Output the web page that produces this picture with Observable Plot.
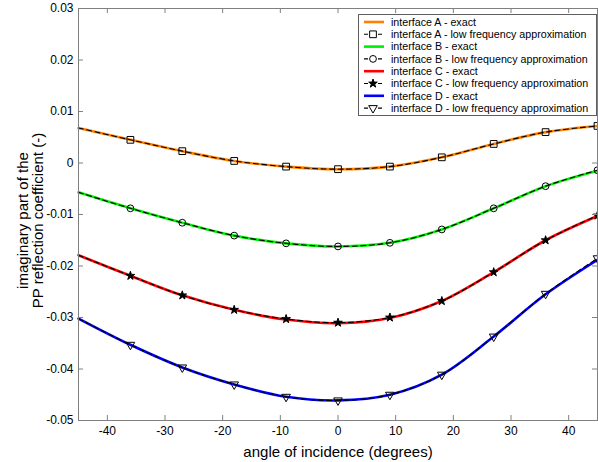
<!DOCTYPE html>
<html>
<head>
<meta charset="utf-8">
<script src="https://cdn.jsdelivr.net/npm/d3@7"></script>
<script src="https://cdn.jsdelivr.net/npm/@observablehq/plot@0.6"></script>
<style>
  html, body { margin: 0; padding: 0; background: #fff; }
  #wrap { position: relative; width: 598px; height: 462px; font-family: Arial, "Liberation Sans", sans-serif; }
  #legend { position: absolute; left: 358px; top: 14px; }
</style>
</head>
<body>
<div id="wrap"><div id="chart"></div><div id="legend"></div></div>
<script>
// angles (degrees) at which values were read
const angles = [-45, -36, -27, -18, -9, 0, 9, 18, 27, 36, 45];
// marker angles of the low-frequency approximation
const markerAngles = [-36, -27, -18, -9, 0, 9, 18, 27, 36, 45];

// exact curves
const exactA = [0.0068, 0.0045, 0.0023, 0.0004, -0.0007, -0.0012, -0.0007, 0.0011, 0.0037, 0.0060, 0.0072];
const exactB = [-0.0057, -0.0088, -0.0116, -0.0141, -0.0156, -0.0162, -0.0155, -0.0129, -0.0088, -0.0045, -0.0015];
const exactC = [-0.0179, -0.0219, -0.0257, -0.0285, -0.0304, -0.0311, -0.0301, -0.0268, -0.0212, -0.0150, -0.0103];
const exactD = [-0.0302, -0.0353, -0.0397, -0.0430, -0.0454, -0.0461, -0.0450, -0.0411, -0.0337, -0.0255, -0.0188];

// low-frequency approximations
const approxA = [0.0068, 0.0045, 0.0023, 0.0004, -0.0007, -0.0012, -0.0007, 0.0011, 0.0037, 0.0060, 0.0072];
const approxB = [-0.0057, -0.0088, -0.0116, -0.0141, -0.0156, -0.0162, -0.0155, -0.0129, -0.0088, -0.0045, -0.0014];
const approxC = [-0.0179, -0.0219, -0.0257, -0.0285, -0.0303, -0.0310, -0.0300, -0.0268, -0.0212, -0.0150, -0.0102];
const approxD = [-0.0302, -0.0353, -0.0397, -0.0430, -0.0454, -0.0461, -0.0450, -0.0411, -0.0337, -0.0254, -0.0185];

const seriesNames = ["A", "B", "C", "D"];
const colors = ["#ff8000", "#00ee00", "#ff0000", "#0000ff"];
const symbols = ["square", "circle", "star", "triangle"];
const symbolR = [3.8, 3.4, 2.7, 3.2];

const xTicks = [-40, -30, -20, -10, 0, 10, 20, 30, 40];
const yTicks = [-0.05, -0.04, -0.03, -0.02, -0.01, 0, 0.01, 0.02, 0.03];

const exactSets = [exactA, exactB, exactC, exactD];
const approxSets = [approxA, approxB, approxC, approxD];

const exactRows = [];
const approxRows = [];
seriesNames.forEach((s, i) => {
  angles.forEach((a, j) => {
    exactRows.push({series: s, x: a, y: exactSets[i][j]});
    approxRows.push({series: s, x: a, y: approxSets[i][j]});
  });
});

const W = 598, H = 462, mL = 78, mT = 8, mR = 1, mB = 42;
const plotW = W - mL - mR, plotH = H - mT - mB;
const gray = "#808080";

const dotMarks = seriesNames.map((s, i) => Plot.dot(
  approxRows.filter(d => d.series === s && markerAngles.includes(d.x)),
  {
    x: "x", y: "y",
    symbol: () => symbols[i],
    r: symbolR[i],
    rotate: i === 3 ? 180 : 0,
    stroke: "black",
    strokeWidth: 1,
    fill: i === 2 ? "black" : "none"
  }
));

const chart = Plot.plot({
  width: W, height: H,
  marginLeft: mL, marginTop: mT, marginRight: mR, marginBottom: mB,
  style: {fontFamily: 'Arial, "Liberation Sans", sans-serif', fontSize: "12px", color: "black", background: "white"},
  x: {domain: [-45, 45]},
  y: {domain: [-0.05, 0.03]},
  symbol: {type: "identity"},
  marks: [
    Plot.line(exactRows, {x: "x", y: "y", z: "series", stroke: d => colors[seriesNames.indexOf(d.series)], strokeWidth: 2.6, curve: "catmull-rom"}),
    Plot.line(approxRows, {x: "x", y: "y", z: "series", stroke: "black", strokeWidth: 1.1, strokeDasharray: "5,3.5", curve: "catmull-rom"}),
    ...dotMarks,
    Plot.ruleX(xTicks, {x: d => d, insetTop: plotH - 5, stroke: gray}),
    Plot.ruleX(xTicks, {x: d => d, insetBottom: plotH - 5, stroke: gray}),
    Plot.ruleY(yTicks, {y: d => d, insetRight: plotW - 5, stroke: gray}),
    Plot.ruleY(yTicks, {y: d => d, insetLeft: plotW - 5, stroke: gray}),
    Plot.frame({stroke: gray}),
    Plot.axisX({ticks: xTicks, tickSize: 0, tickPadding: 6, tickFormat: d => String(d), label: null}),
    Plot.axisY({ticks: yTicks, tickSize: 0, tickPadding: 5, tickFormat: d => String(+d.toFixed(2)), label: null}),
    Plot.text([0], {frameAnchor: "bottom", dy: 36, text: () => "angle of incidence (degrees)", fontSize: 15, fill: "black"}),
    Plot.text([0], {frameAnchor: "left", textAnchor: "middle", dx: -48, dy: 6, rotate: -90, lineHeight: 1.05, text: () => "imaginary part of the\nPP reflection coefficient (-)", fontSize: 15, fill: "black"})
  ]
});
document.getElementById("chart").appendChild(chart);

// legend
const labels = [];
seriesNames.forEach(s => {
  labels.push({text: `interface ${s} - exact`, kind: "exact", s});
  labels.push({text: `interface ${s} - low frequency approximation`, kind: "approx", s});
});
const lw = 239, lh = 102, rowH = 12.3;
const lsvg = d3.select("#legend").append("svg").attr("width", lw).attr("height", lh);
lsvg.append("rect").attr("x", 0.5).attr("y", 0.5).attr("width", lw - 1).attr("height", lh - 1)
  .attr("fill", "white").attr("stroke", "#606060");
const d3sym = {square: d3.symbolSquare, circle: d3.symbolCircle, star: d3.symbolStar, triangle: d3.symbolTriangle};
labels.forEach((l, k) => {
  const y = 8 + k * rowH;
  const i = seriesNames.indexOf(l.s);
  const g = lsvg.append("g");
  if (l.kind === "exact") {
    g.append("line").attr("x1", 6).attr("x2", 26).attr("y1", y).attr("y2", y)
      .attr("stroke", colors[i]).attr("stroke-width", 2.6);
  } else {
    g.append("line").attr("x1", 6).attr("x2", 26).attr("y1", y).attr("y2", y)
      .attr("stroke", "black").attr("stroke-width", 1.1).attr("stroke-dasharray", "4,3");
    const r = symbolR[i];
    g.append("path").attr("d", d3.symbol(d3sym[symbols[i]], r * r * Math.PI)())
      .attr("transform", `translate(15,${y}) rotate(${i === 3 ? 180 : 0})`)
      .attr("fill", i === 2 ? "black" : "white").attr("stroke", "black").attr("stroke-width", 1);
  }
  g.append("text").attr("x", 33).attr("y", y).attr("dy", "0.35em")
    .attr("font-size", 10.7).attr("font-family", 'Arial, "Liberation Sans", sans-serif').text(l.text);
});
</script>
</body>
</html>
